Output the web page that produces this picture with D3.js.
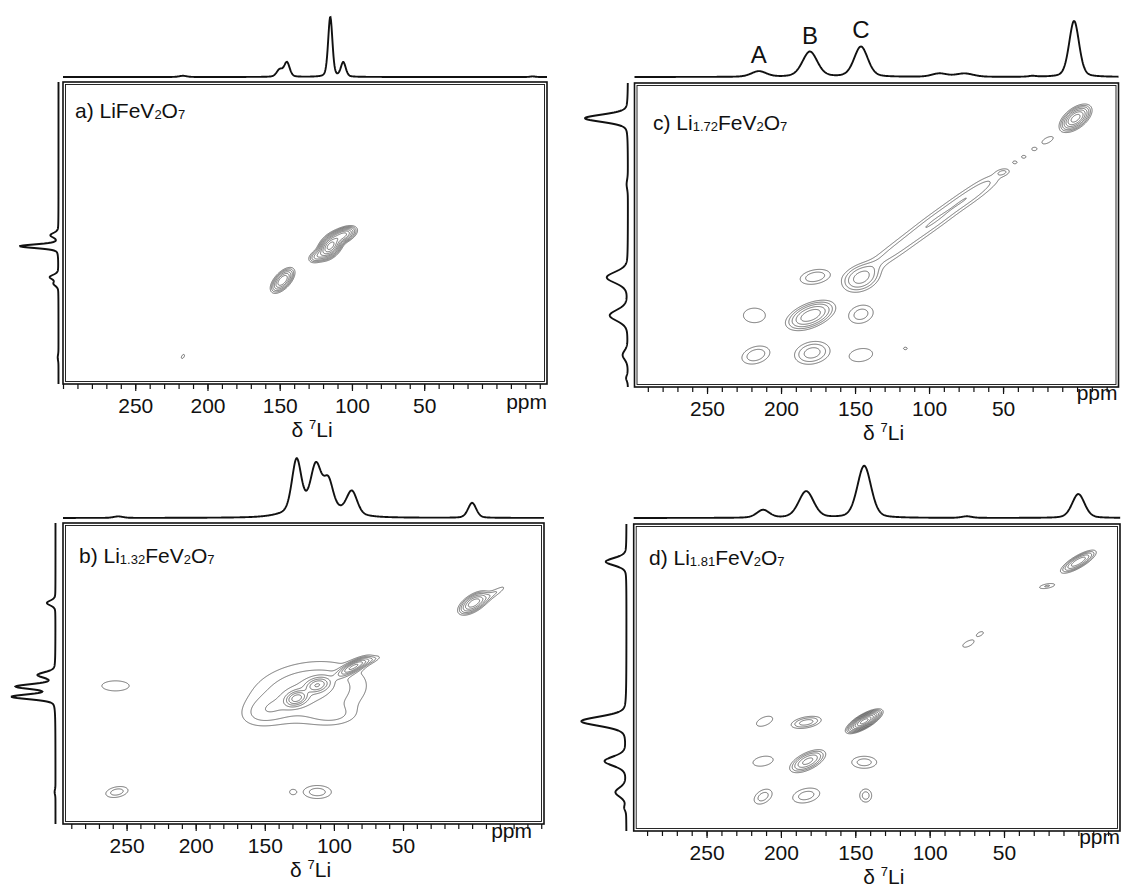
<!DOCTYPE html>
<html>
<head>
<meta charset="utf-8">
<script src="https://cdn.jsdelivr.net/npm/d3@7"></script>
<style>
  body { margin: 0; background: #fff; }
  svg { display: block; }
  text { font-family: "Liberation Sans", Arial, sans-serif; fill: #111; }
</style>
</head>
<body>
<svg id="chart" width="1122" height="887"></svg>
<script>
// labelled ppm ticks on every F2 axis
const tickLabels = [250, 200, 150, 100, 50]
// contour levels, fraction of the strongest peak
const contourLevels = [0.05, 0.08, 0.12, 0.18, 0.26, 0.36, 0.5, 0.68, 0.88]

// 1D projections: [ppm, relative height, fwhm ppm]
const aTop = [[150, 0.12, 5], [145, 0.24, 4.5], [115, 1.0, 3.5], [106, 0.24, 4], [217, 0.02, 6], [-25, 0.01, 4]]
const aLeft = [[116, 1.0, 4], [106, 0.2, 5], [144, 0.22, 5], [150, 0.12, 5], [217, 0.02, 6]]
const bTop = [[112, 0.18, 40], [127, 0.85, 8], [113, 0.7, 9], [104, 0.45, 8], [87, 0.38, 9], [0, 0.25, 7], [256, 0.025, 8]]
const bLeft = [[0, 0.2, 8], [99, 0.4, 9], [115, 0.9, 8], [129, 1.0, 8], [260, 0.02, 8]]
const cTop = [[2, 1.0, 8], [146, 0.54, 11], [180.5, 0.45, 12], [215, 0.1, 12], [93, 0.06, 12], [76, 0.06, 14], [30, 0.015, 6]]
const cLeft = [[0, 1.0, 8], [144.5, 0.49, 12], [179, 0.42, 12], [215, 0.12, 10], [236, 0.04, 6], [60, 0.03, 10]]
const dTop = [[144, 1.0, 11], [183, 0.51, 12], [0, 0.46, 10], [212, 0.15, 10], [75, 0.03, 8]]
const dLeft = [[0, 0.46, 8], [144, 1.0, 10], [180, 0.48, 10], [208, 0.24, 10], [222, 0.04, 6]]

// 2D peaks: [F2 ppm, F1 ppm, width F2, width F1, correlation, amplitude]
const aPeaks = [
  [115, 116, 4, 5.5, 0.45, 1.0], [106, 106, 4.5, 4, 0.5, 0.55], [124, 125, 3.5, 3.5, 0.4, 0.2],
  [148, 147, 4, 5.5, 0.6, 0.5], [217, 216, 1.5, 2.5, 0.5, 0.065]
]
const bPeaks = [
  [-1, 0, 5.5, 8, 0.6, 0.45], [-15, -12, 8, 10, 0.9, 0.08],
  [127, 131, 4.5, 6, 0.3, 0.5], [112, 113, 5, 6, 0.3, 0.4], [86, 88, 6, 7, 0.8, 0.5],
  [118, 122, 30, 30, 0.2, 0.13], [150, 150, 12, 14, 0.3, 0.06], [100, 155, 12, 10, 0, 0.05],
  [75, 80, 6, 5, 0.8, 0.08],
  [258, 114, 12, 8.4, 0, 0.07],
  [257, 260, 6.8, 6.4, 0.3, 0.1], [112, 260, 8.6, 7.6, 0, 0.1], [130, 260, 2.5, 4, 0, 0.06]
]
const cPeaks = [
  [1, 0, 5, 5.8, 0.55, 0.6], [20, 20, 4.5, 4, 0.6, 0.07],
  [29, 28, 2, 1.7, 0, 0.065], [36, 35, 2, 1.7, 0, 0.065], [42, 40, 2, 1.7, 0, 0.06], [50, 49, 3.5, 2.5, 0.3, 0.065],
  [60, 58, 9, 8, 0.7, 0.06], [72, 70, 9, 8, 0.7, 0.075], [84, 81, 9, 8, 0.7, 0.07], [96, 93, 9, 8, 0.7, 0.08],
  [108, 105, 9, 8, 0.7, 0.07], [120, 117, 9, 8, 0.7, 0.065], [132, 129, 9, 8, 0.7, 0.06],
  [146, 145, 7.5, 7.5, 0.3, 0.22], [180, 179, 8.5, 7, 0.5, 0.35],
  [177, 144, 8, 5.4, 0.3, 0.11], [146, 178, 7, 7, 0.2, 0.1],
  [217, 215, 7.5, 6.5, 0.3, 0.11], [179, 213, 8, 7, 0.2, 0.15], [146, 215, 8.7, 6.6, 0.2, 0.075],
  [218, 179, 9, 8, 0, 0.07], [116, 209, 2, 1.8, 0, 0.06]
]
const dPeaks = [
  [0, 0, 6.1, 5.3, 0.8, 0.35], [21, 22, 4.9, 2.2, 0.5, 0.085],
  [66, 65, 2.8, 2.5, 0.5, 0.065], [74, 74, 4.1, 3.5, 0.6, 0.075],
  [144, 144, 5.2, 4.6, 0.75, 1.0],
  [212, 212, 5.1, 5.7, 0.4, 0.1], [183, 211, 7.7, 5.7, 0.3, 0.1], [143, 211, 3.4, 5, 0, 0.1],
  [212, 180, 7.5, 5, 0.3, 0.075], [182, 180, 6.4, 5.5, 0.6, 0.3], [144, 181, 7.1, 4.6, 0, 0.1],
  [211, 144, 6.6, 5.5, 0.5, 0.07], [183, 145, 6.8, 3.7, 0.4, 0.15]
]

// site labels over the F2 projection of panel c
const siteLabels = [['A', 215], ['B', 180.5], ['C', 146]]

const panels = [
  { label: [['a) LiFeV', 0], ['2', 1], ['O', 0], ['7', 1]], labelAt: [75, 117.5],
    frame: [63, 547, 82, 384], xDom: [300, -35], yDom: [-33, 241],
    topBase: 77, topH: 60, leftBase: 58.5, leftW: 38.5, ppmAt: [0, 25],
    top: aTop, left: aLeft, peaks: aPeaks },
  { label: [['b) Li', 0], ['1.32', 1], ['FeV', 0], ['2', 1], ['O', 0], ['7', 1]], labelAt: [79, 563],
    frame: [63, 544, 523, 824], xDom: [296, -52], yDom: [-110, 304],
    topBase: 518, topH: 60, leftBase: 55.5, leftW: 43, ppmAt: [-12, 14],
    top: bTop, left: bLeft, peaks: bPeaks },
  { label: [['c) Li', 0], ['1.72', 1], ['FeV', 0], ['2', 1], ['O', 0], ['7', 1]], labelAt: [653, 130],
    frame: [634.5, 1118.5, 83, 387], xDom: [299, -28], yDom: [-32, 244],
    topBase: 77, topH: 56, leftBase: 628, leftW: 43, ppmAt: [-1, 13],
    top: cTop, left: cLeft, peaks: cPeaks, sites: siteLabels },
  { label: [['d) Li', 0], ['1.81', 1], ['FeV', 0], ['2', 1], ['O', 0], ['7', 1]], labelAt: [649, 565],
    frame: [633.7, 1120, 524, 831], xDom: [299, -28], yDom: [-34, 243],
    topBase: 518, topH: 52, leftBase: 626.5, leftW: 45, ppmAt: [0, 13],
    top: dTop, left: dLeft, peaks: dPeaks }
]

function lineshape(peaks, v) {
  return d3.sum(peaks, ([c, h, w]) => {
    const t = (v - c) / (w / 2)
    return h * (0.7 * Math.exp(-Math.LN2 * t * t) + 0.3 / (1 + t * t))
  })
}

function peak2d(p, X, Y) {
  const [cx, cy, sx, sy, r, a] = p
  const u = (X - cx) / sx, w = (Y - cy) / sy
  if (Math.abs(u) > 7 || Math.abs(w) > 7) return 0
  return a * Math.exp(-(u * u - 2 * r * u * w + w * w) / (2 * (1 - r * r)))
}

const svg = d3.select('#chart')

function drawPanel(p) {
  const [x0, x1, y0, y1] = p.frame
  const x = d3.scaleLinear().domain(p.xDom).range([x0, x1])
  const y = d3.scaleLinear().domain(p.yDom).range([y0, y1])
  const g = svg.append('g')

  // contour map
  const nx = Math.round((x1 - x0) * 2), ny = Math.round((y1 - y0) * 2)
  const gi = d3.scaleLinear().domain([0, nx]).range([x0, x1])
  const gj = d3.scaleLinear().domain([0, ny]).range([y0, y1])
  const values = new Float64Array(nx * ny)
  for (let j = 0; j < ny; j++) {
    const Y = y.invert(gj(j + 0.5))
    for (let i = 0; i < nx; i++) {
      const X = x.invert(gi(i + 0.5))
      let s = 0
      for (const pk of p.peaks) s += peak2d(pk, X, Y)
      values[j * nx + i] = s
    }
  }
  const contours = d3.contours().size([nx, ny]).thresholds(contourLevels)(values)
  const gridPath = d3.geoPath(d3.geoTransform({
    point(px, py) { this.stream.point(gi(px), gj(py)) }
  }))
  g.append('g')
    .selectAll('path')
    .data(contours)
    .enter()
    .append('path')
    .attr('d', gridPath)
    .attr('fill', 'none')
    .attr('stroke', '#4a4a4a')
    .attr('stroke-width', 0.8)

  // frame, drawn as a double line
  g.append('rect')
    .attr('x', x0).attr('y', y0)
    .attr('width', x1 - x0).attr('height', y1 - y0)
    .attr('fill', 'none').attr('stroke', '#111').attr('stroke-width', 1.6)
  g.append('rect')
    .attr('x', x0 + 2.5).attr('y', y0 + 2.5)
    .attr('width', x1 - x0 - 5).attr('height', y1 - y0 - 5)
    .attr('fill', 'none').attr('stroke', '#111').attr('stroke-width', 0.9)

  // F2 projection on top
  const topY = d3.scaleLinear().domain([0, 1]).range([p.topBase, p.topBase - p.topH])
  const topPts = d3.range(x0, x1 + 0.5, 0.5).map(px => [px, lineshape(p.top, x.invert(px))])
  g.append('path')
    .datum(topPts)
    .attr('d', d3.line().x(d => d[0]).y(d => topY(d[1])))
    .attr('fill', 'none').attr('stroke', '#111').attr('stroke-width', 1.9)

  // F1 projection on the left
  const leftX = d3.scaleLinear().domain([0, 1]).range([p.leftBase, p.leftBase - p.leftW])
  const leftPts = d3.range(y0, y1 + 0.5, 0.5).map(py => [py, lineshape(p.left, y.invert(py))])
  g.append('path')
    .datum(leftPts)
    .attr('d', d3.line().x(d => leftX(d[1])).y(d => d[0]))
    .attr('fill', 'none').attr('stroke', '#111').attr('stroke-width', 1.9)

  // bottom axis: minor ticks every 10 ppm, labelled every 50
  const lo = Math.min(...p.xDom), hi = Math.max(...p.xDom)
  const minor = d3.range(Math.ceil(lo / 10) * 10, hi + 0.01, 10)
  g.append('g')
    .attr('transform', `translate(0,${y1})`)
    .call(d3.axisBottom(x).tickValues(minor).tickSize(5).tickFormat(''))
    .call(a => a.select('.domain').remove())
    .call(a => a.selectAll('line').attr('stroke', '#111').attr('stroke-width', 1.2))
  g.append('g')
    .attr('transform', `translate(0,${y1})`)
    .call(d3.axisBottom(x).tickValues(tickLabels).tickSize(7).tickPadding(7))
    .call(a => a.select('.domain').remove())
    .call(a => a.selectAll('line').attr('stroke', '#111').attr('stroke-width', 1.2))
    .call(a => a.selectAll('text')
      .attr('font-size', 21)
      .attr('font-family', '"Liberation Sans", Arial, sans-serif')
      .attr('fill', '#111'))

  g.append('text')
    .attr('x', x1 + p.ppmAt[0]).attr('y', y1 + p.ppmAt[1])
    .attr('text-anchor', 'end').attr('font-size', 21)
    .text('ppm')

  const ax = g.append('text')
    .attr('x', (x0 + x1) / 2 + 7).attr('y', y1 + 53)
    .attr('text-anchor', 'middle').attr('font-size', 21)
  ax.append('tspan').text('δ ')
  ax.append('tspan').attr('font-size', 13).attr('dy', -8).text('7')
  ax.append('tspan').attr('dy', 8).text('Li')

  // sample label with small subscripts
  const lab = g.append('text')
    .attr('x', p.labelAt[0]).attr('y', p.labelAt[1])
    .attr('font-size', 21)
  p.label.forEach(([t, sub], k) => {
    const prev = k > 0 ? p.label[k - 1][1] : 0
    lab.append('tspan')
      .attr('font-size', sub ? 13 : 21)
      .attr('dy', sub && !prev ? 1 : (!sub && prev ? -1 : 0))
      .text(t)
  })

  if (p.sites) {
    g.selectAll('.site')
      .data(p.sites)
      .enter()
      .append('text')
      .attr('class', 'site')
      .attr('x', d => x(d[1]))
      .attr('y', d => topY(lineshape(p.top, d[1])) - 8)
      .attr('text-anchor', 'middle')
      .attr('font-family', '"Open Sans", sans-serif')
      .attr('font-size', 24)
      .text(d => d[0])
  }
}

panels.forEach(drawPanel)
</script>
</body>
</html>
